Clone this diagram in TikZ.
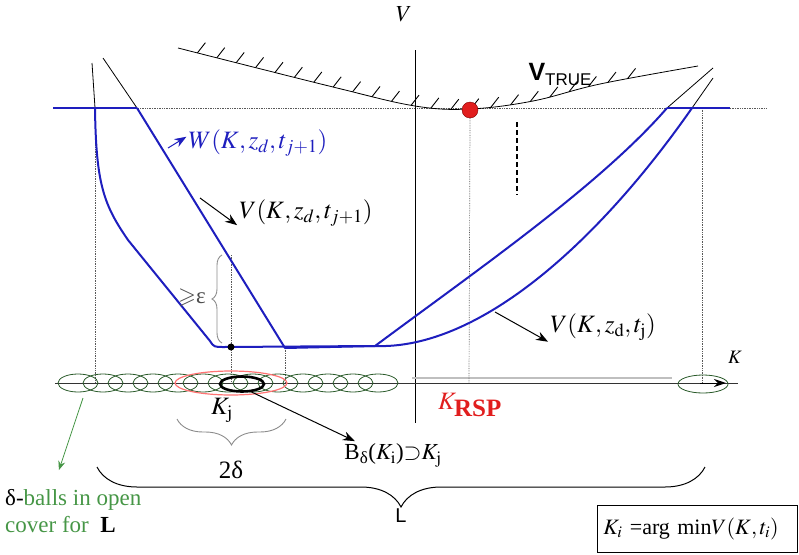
\documentclass[tikz,border=0pt]{standalone}
\usepackage{amssymb}
\usepackage{mathptmx}
\usepackage{fontspec}
\setmainfont{Liberation Serif}
\newfontfamily\sansfam{Liberation Sans}
\usetikzlibrary{arrows.meta,decorations.pathreplacing,decorations.markings,shapes.geometric}
\definecolor{cblue}{RGB}{30,30,190}
\definecolor{cgreen}{RGB}{70,150,70}
\definecolor{cred}{RGB}{225,30,30}
\tikzset{
  bcurve/.style={draw=cblue,line width=2pt,line join=round},
  tline/.style={black,line width=0.8pt},
  dotl/.style={densely dotted,black!65,line width=0.7pt},
  gball/.style={draw=cgreen!60!black,line width=0.8pt},
  lab/.style={font=\fontsize{25}{28}\selectfont,inner sep=2pt},
  mlab/.style={font=\fontsize{25}{28}\selectfont,inner sep=2pt},
  slab/.style={font=\fontsize{23}{27}\selectfont,inner sep=2pt},
  de/.style={-{Stealth[length=12pt,width=9pt]},line width=1pt},
  gbrace/.style={decorate,decoration={brace,amplitude=#1},draw=black!45,line width=0.9pt},
  hatch/.style={postaction={decorate,decoration={markings,
    mark=between positions 20pt and 470pt step 20pt with
    {\pgftransformresetnontranslations\draw[line width=0.9pt] (0,0) -- (52:13pt);}}}}
}
\begin{document}
\begin{tikzpicture}[x=1pt,y=-1pt]
\useasboundingbox (0,0) rectangle (799,554);

\draw[dotl] (55,108) -- (767,108);
\draw[dotl] (95,108) -- (95,383);
\draw[dotl] (231,255) -- (231,383);
\draw[dotl] (285,348) -- (285,383);
\draw[dotl] (702,108) -- (702,383);
\draw[dash pattern=on 5pt off 3pt,line width=1.2pt] (517,122) -- (517,195);

\draw[line width=1pt] (415,50) -- (415,423);
\draw[black!25,line width=1.5pt] (412,378) -- (672,378);
\draw[black!80,line width=1pt] (55,383) -- (738,383);
\draw[-{Stealth[length=12pt,width=8pt]},line width=1pt] (700,383) -- (726,383);

\draw[tline,hatch] plot[smooth,tension=0.6] coordinates
  {(178,48) (333,87) (415,106) (470,109) (533,101) (600,84) (698,66)};
\node[circle,fill=cred,draw=red!50!black,minimum size=16pt,inner sep=0pt] (rsp) at (470,110) {};
\draw[dotl] (rsp.south) -- (469,383);

\draw[tline] (92,63) -- (95,108);
\draw[tline] (103,58) -- (137,108);
\draw[tline] (667,108) -- (713,68);
\draw[tline] (692,108) -- (713,78);
\draw[bcurve] (53,108) -- (137,108);
\draw[bcurve] (667,108) -- (730,108);
\draw[bcurve] (95,108) .. controls (96,185) and (104,205) .. (128,240)
  -- (210,341) .. controls (214,347) .. (224,347) -- (375,346)
  .. controls (480,350) and (600,240) .. (692,108);
\draw[bcurve] (137,108) -- (285,348) -- (375,346);
\draw[bcurve] (375,346) .. controls (480,268) and (600,185) .. (667,108);
\fill (231,347) circle (3.5);

\foreach \cx in {78,103,...,378}
  \draw[gball] (\cx,383) ellipse (20 and 9);
\draw[gball] (703,384) ellipse (25 and 9);
\draw[red!55,line width=1.2pt] (231,383) ellipse (56 and 12);
\node[draw,ellipse,line width=2.6pt,minimum width=44pt,minimum height=15pt,inner sep=0pt] (bk) at (242,384) {};

\node[font=\fontsize{23}{25}\selectfont] (Vax) at (404,14) {$V$};
\node[font=\fontsize{19}{21}\selectfont] (Kax) at (735,357) {$K$};
\node[font=\sansfam] (Vtrue) at (560,74)
  {\fontsize{25}{28}\selectfont\bfseries V\raisebox{-5pt}{\fontsize{17}{20}\selectfont\mdseries TRUE}};
\node[lab,text=cblue] (Wlab) at (258,143) {$W(K,z_d,t_{j+1})$};
\node[lab] (V1lab) at (306,213) {$V(K,z_d,t_{j+1})$};
\node[lab] (V2lab) at (603,327) {$V(K,z_{\mathrm{d}},t_{\mathrm{j}})$};
\node[slab,text=black!70] (eps) at (192,298) {$\geqslant$ε};
\node[mlab] (Kj) at (222,410) {$K_{\mathrm{j}}$};
\node[mlab] (twod) at (231,470) {2δ};
\node[slab] (Bdel) at (393,455) {B\textsubscript{δ}($K_{\mathrm{i}}$)$\supset$$K_{\mathrm{j}}$};
\node[mlab,text=cred] (Krsp) at (470,405) {$K_{\textbf{RSP}}$};
\node[slab,align=left,anchor=west,text=cgreen] (balls) at (3,511)
  {{\color{black}δ-}balls in open\\cover for \ {\color{black}\textbf{L}}};
\node[font=\sansfam\fontsize{20}{22}\selectfont] (Llab) at (401,516) {L};
\node[draw,line width=0.7pt,anchor=north west,font=\fontsize{22}{25}\selectfont,
  text width=188pt,inner xsep=6pt,minimum height=47pt,align=left] (box) at (597,505)
  {$K_i$ =arg min$V(K,t_i)$};

\coordinate (wt) at (168,148);
\coordinate (v1t) at (200,198);
\coordinate (v2t) at (495,312);
\coordinate (gt) at (83,398);
\draw[de,cblue] (wt) -- (Wlab.175);
\draw[de] (v1t) -- (V1lab.190);
\draw[de] (v2t) -- (V2lab.195);
\draw[de] (bk.-40) -- (Bdel.160);
\draw[-{Stealth[length=9pt,width=7pt]},cgreen,line width=0.8pt,shorten >=18pt] (gt) -- (balls.130);

\draw[gbrace=10pt] (222,343) -- (222,255);
\draw[gbrace=26pt] (286,419) -- (177,419);
\draw[decorate,decoration={brace,amplitude=40pt},line width=1pt] (705,467) -- (97,467);
\end{tikzpicture}
\end{document}
